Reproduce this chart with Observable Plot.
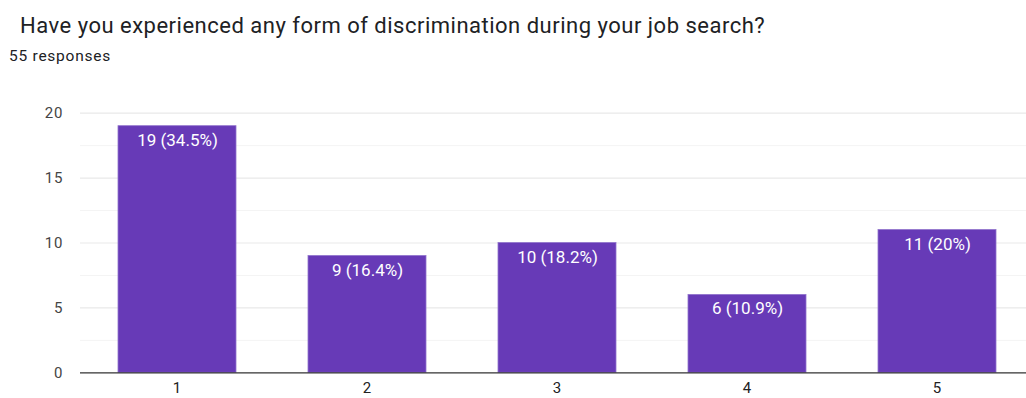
<!DOCTYPE html>
<html>
<head>
<meta charset="utf-8">
<script src="https://cdn.jsdelivr.net/npm/d3@7"></script>
<script src="https://cdn.jsdelivr.net/npm/@observablehq/plot@0.6"></script>
<style>
  html, body { margin: 0; padding: 0; background: #fff; overflow: hidden; width: 1026px; height: 398px; }
  body { position: relative; font-family: Roboto, "Noto Sans", sans-serif; }
  #title { position: absolute; left: 20px; top: 13px; font-size: 22px; letter-spacing: 0.5px; color: #202124; white-space: nowrap; line-height: normal; }
  #subtitle { position: absolute; left: 9px; top: 47px; font-size: 15.5px; letter-spacing: 0.75px; color: #202124; white-space: nowrap; line-height: normal; }
  #chart { position: absolute; left: 0; top: 90px; width: 1033px; }
  #chart svg { max-width: none !important; }
</style>
</head>
<body>
<div id="title"></div>
<div id="subtitle"></div>
<div id="chart"></div>
<script>
const titleText = "Have you experienced any form of discrimination during your job search?";
const subtitleText = "55 responses";
const categories = ["1", "2", "3", "4", "5"];
const counts = [19, 9, 10, 6, 11];
const labels = ["19 (34.5%)", "9 (16.4%)", "10 (18.2%)", "6 (10.9%)", "11 (20%)"];
const majorTicks = [0, 5, 10, 15, 20];
const minorTicks = [2.5, 7.5, 12.5, 17.5];

document.getElementById("title").textContent = titleText;
document.getElementById("subtitle").textContent = subtitleText;

const data = categories.map((c, i) => ({cat: c, value: counts[i], label: labels[i]}));

const chart = Plot.plot({
  width: 1033,
  height: 308,
  marginLeft: 80,
  marginRight: 0,
  marginTop: 22.7,
  marginBottom: 25.7,
  style: {fontFamily: "Roboto, sans-serif", fontSize: "15px", color: "#444", background: "transparent", maxWidth: "none"},
  x: {domain: categories, paddingInner: 0.38, paddingOuter: 0.19, label: null},
  y: {domain: [0, 20], label: null},
  marks: [
    Plot.ruleY(minorTicks, {stroke: "#f4f4f4", strokeWidth: 1}),
    Plot.ruleY(majorTicks.filter(d => d > 0), {stroke: "#e9e9e9", strokeWidth: 1.2}),
    Plot.ruleX([0], {x: () => null, stroke: "#efefef"}),
    Plot.barY(data, {x: "cat", y: "value", fill: "#673ab7", stroke: "#9174cc", strokeWidth: 0.8}),
    Plot.text(data, {x: "cat", y: "value", text: "label", fill: "#fff", dy: 7.5, fontSize: 17, lineAnchor: "top", style: "letter-spacing:0.5px"}),
    Plot.ruleY([0], {stroke: "#333", strokeWidth: 1.3}),
    Plot.axisY(majorTicks, {tickSize: 0, tickPadding: 17, fill: "#444", fontSize: 15}),
    Plot.axisX({tickSize: 0, tickPadding: 10, fill: "#222", fontSize: 15})
  ]
});
chart.querySelectorAll("g[aria-label='y-axis tick label'] text, g[aria-label='x-axis tick label'] text").forEach(t => t.style.letterSpacing = "1px");
document.getElementById("chart").appendChild(chart);
</script>
</body>
</html>
